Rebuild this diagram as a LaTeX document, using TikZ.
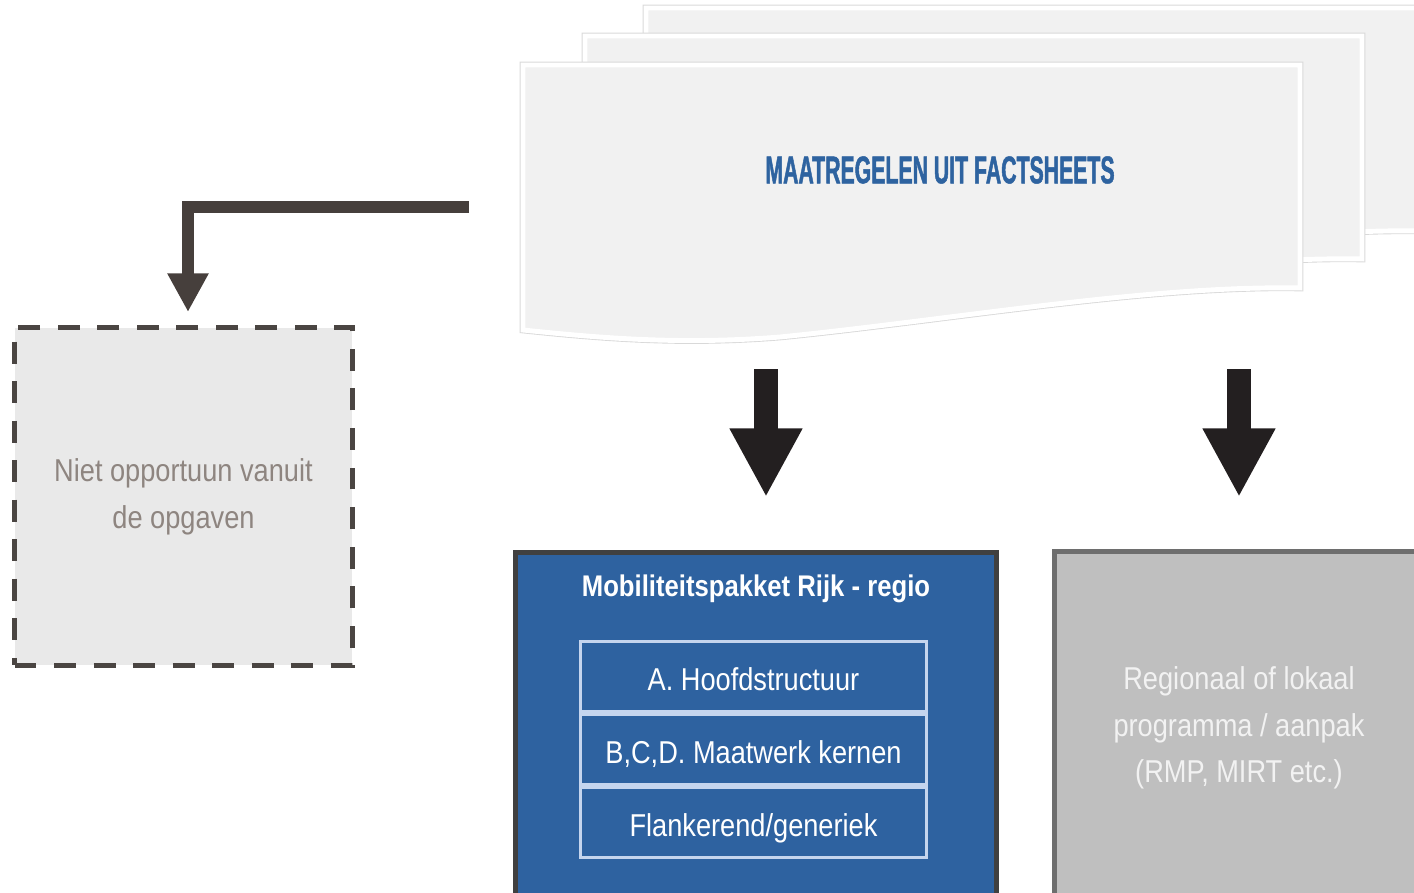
\documentclass[tikz,border=0pt]{standalone}
\usepackage{fontspec}
\newfontfamily\condfont[FakeStretch=0.86]{Liberation Sans}
\newfontfamily\headfont[FakeStretch=0.55,FakeBold=1.2]{Liberation Sans}
\usetikzlibrary{positioning,arrows.meta}
\definecolor{sheetgray}{HTML}{F1F1F1}
\definecolor{koptekst}{HTML}{2E63A0}
\definecolor{pijlzwart}{HTML}{231F20}
\definecolor{knikgrijs}{HTML}{463F3C}
\definecolor{stippelrand}{HTML}{4A4542}
\definecolor{stippelvlak}{HTML}{E9E9E9}
\definecolor{niettekst}{HTML}{8E8580}
\definecolor{pakketblauw}{HTML}{2E62A0}
\definecolor{pakketrand}{HTML}{404040}
\definecolor{vaklijn}{HTML}{C5D5EE}
\definecolor{regiogrijs}{HTML}{BFBFBF}
\definecolor{regiorand}{HTML}{6E6E6E}

\begin{document}
\begin{tikzpicture}[x=0.02cm, y=-0.02cm,
  sheet/.style={fill=sheetgray, draw=white, line width=2.8pt, preaction={draw=black!15, line width=3.8pt}},
  kop/.style={text=koptekst, font=\headfont\bfseries\fontsize{22}{26}\selectfont},
  pijl/.style={draw=pijlzwart, line width=13.6pt, -{Triangle[width=38.6pt,length=39pt]}},
  knik/.style={draw=knikgrijs, line width=6.8pt, -{Triangle[width=22pt,length=22pt]}},
  stippelbox/.style={draw=stippelrand, fill=stippelvlak, line width=2.8pt, dash pattern=on 12.5pt off 10pt,
    minimum width=6.76cm, minimum height=6.76cm, align=center, text=niettekst,
    font=\condfont\fontsize{18}{26.6}\selectfont},
  blok/.style={line width=2.8pt, minimum width=9.62cm, minimum height=7.05cm, inner sep=0pt},
  vak/.style={draw=vaklijn, line width=1.7pt, minimum width=6.94cm, minimum height=1.40cm,
    text height=16pt, text depth=0pt, text=white, font=\condfont\fontsize{18}{20}\selectfont},
  ]
\useasboundingbox (0,0) rectangle (1414,893);

% stapel factsheets
\foreach \dx/\dy in {123/-57, 62/-29, 0/0}
  \path[sheet, shift={(\dx,\dy)}] (523,65) -- (1300,65) -- (1300,288)
    .. controls (1150,285) and (950,320) .. (780,337)
    .. controls (680,345) and (600,338) .. (523,330) -- cycle;
\node[kop] (factsheets) at (940,170) {MAATREGELEN UIT FACTSHEETS};

% niet opportuun
\node[stippelbox] (niet) at (183.5,496.5) {Niet opportuun vanuit\\de opgaven};

% mobiliteitspakket
\node[blok, draw=pakketrand, fill=pakketblauw] (pakket) at (756,728.75) {};
\node[text=white, font=\condfont\bfseries\fontsize{17}{20}\selectfont] (pakkettitel) at (756,589) {Mobiliteitspakket Rijk - regio};
\node[vak] (hoofd) at (753.5,676.5) {A. Hoofdstructuur};
\node[vak, below=0pt of hoofd] (maatwerk) {B,C,D. Maatwerk kernen};
\node[vak, below=0pt of maatwerk] (flank) {Flankerend/generiek};

% regionaal
\node[blok, draw=regiorand, fill=regiogrijs, minimum width=7.38cm, align=center, text=white!95!black,
  font=\condfont\fontsize{18}{26.6}\selectfont] (regio) at (1239,728)
  {Regionaal of lokaal\\programma / aanpak\\(RMP, MIRT etc.)};

% pijlen
\coordinate (tak) at (469,207);
\coordinate (tak-eind) at (188,312);
\coordinate (p1-start) at (766,369);
\coordinate (p1-eind) at (766,497);
\coordinate (p2-start) at (1239,369);
\coordinate (p2-eind) at (1239,497);
\draw[knik] (tak) -| (tak-eind);
\draw[pijl] (p1-start) -- (p1-eind);
\draw[pijl] (p2-start) -- (p2-eind);
\end{tikzpicture}
\end{document}
